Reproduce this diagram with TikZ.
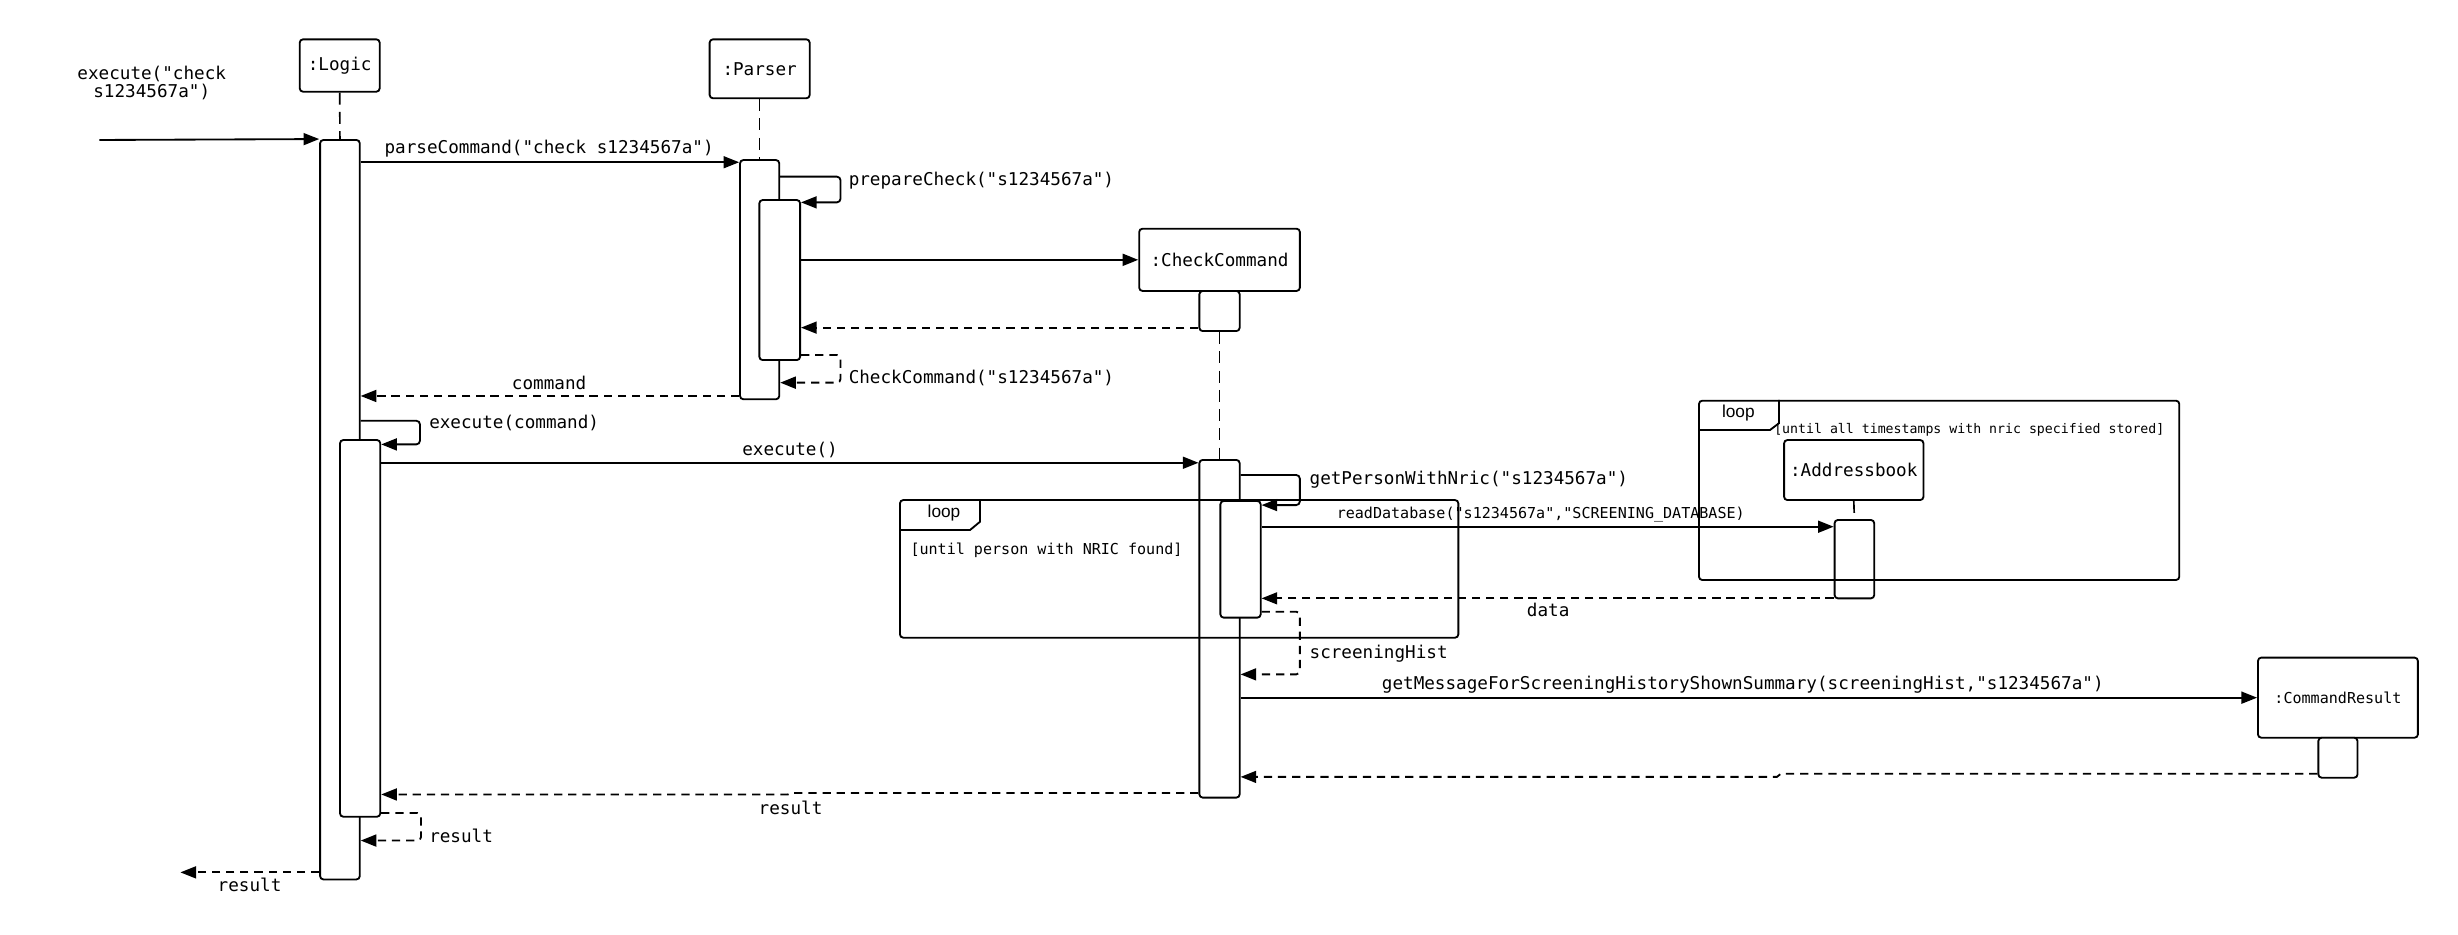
\documentclass[tikz,border=0pt]{standalone}
\usepackage{fontspec}
\setmonofont{DejaVu Sans Mono}
\newfontfamily\loopfont{Liberation Sans}
\usetikzlibrary{arrows.meta,fit}

\begin{document}
\begin{tikzpicture}[x=0.03cm,y=-0.03cm,
    every node/.style={font=\ttfamily\fontsize{9.6}{11}\selectfont, inner sep=0pt},
    obj/.style={draw, line width=1pt, rounded corners=1.8pt, fill=white, inner sep=0pt},
    act/.style={draw, line width=1pt, rounded corners=1.8pt, fill=white, inner sep=0pt},
    loopframe/.style={draw, line width=1pt, rounded corners=1.8pt, inner sep=0pt},
    looptab/.style={line width=1pt},
    looplbl/.style={font=\loopfont\fontsize{9.4}{11}\selectfont},
    life/.style={line width=0.9pt, dash pattern=on 6.5pt off 4pt},
    msg/.style={line width=1pt, rounded corners=2pt, -{Triangle[length=8.5pt,width=6.5pt]}},
    ret/.style={msg, dash pattern=on 4.5pt off 3.2pt},
    smalltext/.style={font=\ttfamily\fontsize{8.2}{10}\selectfont},
    tinytext/.style={font=\ttfamily\fontsize{7.2}{9}\selectfont}]
\useasboundingbox (0,0) rectangle (1568,596);

% Drawing object boxes
\node[obj, minimum width=1.530cm, minimum height=1.002cm] (logic) at (216.7,41.8) {:Logic};
\node[obj, minimum width=1.914cm, minimum height=1.128cm] (parser) at (484.6,43.9) {:Parser};
\node[obj, minimum width=3.075cm, minimum height=1.191cm] (checkCmd) at (777.95,165.75) {:CheckCommand};
\node[obj, minimum width=2.667cm, minimum height=1.149cm] (addrBook) at (1182.55,299.85) {:Addressbook};
\node[obj, smalltext, minimum width=3.060cm, minimum height=1.533cm] (cmdResult) at (1491.4,445.05) {:CommandResult};

% Drawing activation bars
\node[act, fit={(204.2,89.3) (229.5,561.0)}] (logicAct) {};
\node[act, fit={(216.9,280.7) (242.6,521.0)}] (logicAct2) {};
\node[act, fit={(472.1,102.1) (497.1,254.7)}] (parserAct) {};
\node[act, fit={(484.4,127.6) (510.4,229.7)}] (parserAct2) {};
\node[act, fit={(765.1,185.6) (790.8,211.2)}] (checkAct) {};
\node[act, fit={(765.1,293.4) (790.8,508.8)}] (checkAct2) {};
\node[act, fit={(778.5,319.6) (804.2,394.0)}] (checkAct3) {};
\node[act, fit={(1170.3,331.7) (1195.6,381.7)}] (addrAct) {};
\node[act, fit={(1478.9,470.6) (1503.9,496.1)}] (resultAct) {};

% Drawing lifelines
\draw[life] (logic.south) -- (logicAct.north);
\draw[life] (parser.south) -- (parserAct.north);
\draw[life] (checkAct.south) -- (checkAct2.north);
\draw[life] (addrBook.south) -- (addrAct.north);

% Drawing loop frames
\node[loopframe, fit={(574.1,319.0) (930.3,406.8)}] (loopPerson) {};
\draw[looptab] (loopPerson.west |- 0,338.1) -- (618.8,338.1) -- (625.2,332.8) -- (625.2,0 |- loopPerson.north);
\node[looplbl] (loopPersonLbl) at (602.2,327.5) {loop};
\node[smalltext, anchor=west] (loopPersonGuard) at (580.6,350.9) {[until person with NRIC found]};

\node[loopframe, fit={(1083.8,255.6) (1390.2,370.0)}] (loopStamp) {};
\draw[looptab] (loopStamp.west |- 0,274.3) -- (1129.1,274.3) -- (1134.8,270.0) -- (1134.8,0 |- loopStamp.north);
\node[looplbl] (loopStampLbl) at (1108.9,263.7) {loop};
\node[tinytext, anchor=west] (loopStampGuard) at (1131.6,273.9) {[until all timestamps with nric specified stored]};

% Drawing message execute("check s1234567a")
\coordinate (entry) at (63.4,89.3);
\draw[msg] (entry) -- (logicAct.north west);
\node[align=center, font=\ttfamily\fontsize{9.6}{10}\selectfont] (lblEntry) at (96.8,52.8) {execute("check\\s1234567a")};

% Drawing message parseCommand
\draw[msg] (logicAct.east |- 0,103.5) -- (parserAct.west |- 0,103.5);
\node (lblParse) at (350.3,95.0) {parseCommand("check s1234567a")};

% Drawing self call prepareCheck
\draw[msg] (parserAct.east |- 0,112.7) -- (536.2,112.7) -- (536.2,129.1) -- (parserAct2.east |- 0,129.1);
\node[anchor=west] (lblPrepare) at (541.2,115.0) {prepareCheck("s1234567a")};

% Drawing creation of CheckCommand
\draw[msg] (parserAct2.east |- checkCmd.west) -- (checkCmd.west);
\draw[ret] (checkAct.west |- 0,209.0) -- (parserAct2.east |- 0,209.0);

% Drawing return CheckCommand("s1234567a")
\draw[ret] (parserAct2.east |- 0,226.5) -- (536.2,226.5) -- (536.2,244.1) -- (parserAct.east |- 0,244.1);
\node[anchor=west] (lblCheckCmd) at (541.2,241.3) {CheckCommand("s1234567a")};

% Drawing return command
\draw[ret] (parserAct.west |- 0,252.6) -- (logicAct.east |- 0,252.6);
\node (lblCommand) at (350.3,244.5) {command};

% Drawing self call execute(command)
\draw[msg] (logicAct.east |- 0,268.4) -- (267.9,268.4) -- (267.9,283.5) -- (logicAct2.east |- 0,283.5);
\node[anchor=west] (lblExecCmd) at (273.6,269.6) {execute(command)};

% Drawing message execute()
\draw[msg] (logicAct2.east |- 0,295.2) -- (checkAct2.west |- 0,295.2);
\node (lblExecute) at (504.0,287.0) {execute()};

% Drawing self call getPersonWithNric
\draw[msg] (checkAct2.east |- 0,303.0) -- (829.2,303.0) -- (829.2,322.2) -- (checkAct3.east |- 0,322.2);
\node[anchor=west] (lblGetPerson) at (835.2,306.2) {getPersonWithNric("s1234567a")};

% Drawing message readDatabase
\draw[msg] (checkAct3.east |- 0,336.0) -- (addrAct.west |- 0,336.0);
\node[smalltext, anchor=west] (lblRead) at (852.5,328.5) {readDatabase("s1234567a","SCREENING\_DATABASE)};

% Drawing return data
\draw[ret] (addrAct.west |- 0,381.7) -- (checkAct3.east |- 0,381.7);
\node (lblData) at (987.6,389.1) {data};

% Drawing return screeningHist
\draw[ret] (checkAct3.east |- 0,390.2) -- (829.2,390.2) -- (829.2,430.2) -- (checkAct2.east |- 0,430.2);
\node[anchor=west] (lblHist) at (835.2,416.8) {screeningHist};

% Drawing message getMessageForScreeningHistoryShownSummary
\draw[msg] (checkAct2.east |- cmdResult.west) -- (cmdResult.west);
\node[anchor=west] (lblGetMsg) at (881.3,437.0) {getMessageForScreeningHistoryShownSummary(screeningHist,"s1234567a")};

% Drawing return from CommandResult
\draw[ret, rounded corners=0pt] (resultAct.west |- 0,493.6) -- (1136.0,493.6) -- (1133.5,495.6) -- (checkAct2.east |- 0,495.6);

% Drawing return result
\draw[ret, rounded corners=0pt] (checkAct2.west |- 0,505.9) -- (505.0,505.9) -- (502.5,506.8) -- (logicAct2.east |- 0,506.8);
\node (lblResult) at (504.3,515.2) {result};

% Drawing self return result
\draw[ret] (logicAct2.east |- 0,518.6) -- (268.6,518.6) -- (268.6,536.2) -- (logicAct.east |- 0,536.2);
\node[anchor=west] (lblResultSelf) at (273.6,533.0) {result};

% Drawing final return result
\coordinate (exit) at (115.1,556.5);
\draw[ret] (logicAct.west |- 0,556.5) -- (exit);
\node (lblResultOut) at (159.2,564.5) {result};
\end{tikzpicture}
\end{document}
